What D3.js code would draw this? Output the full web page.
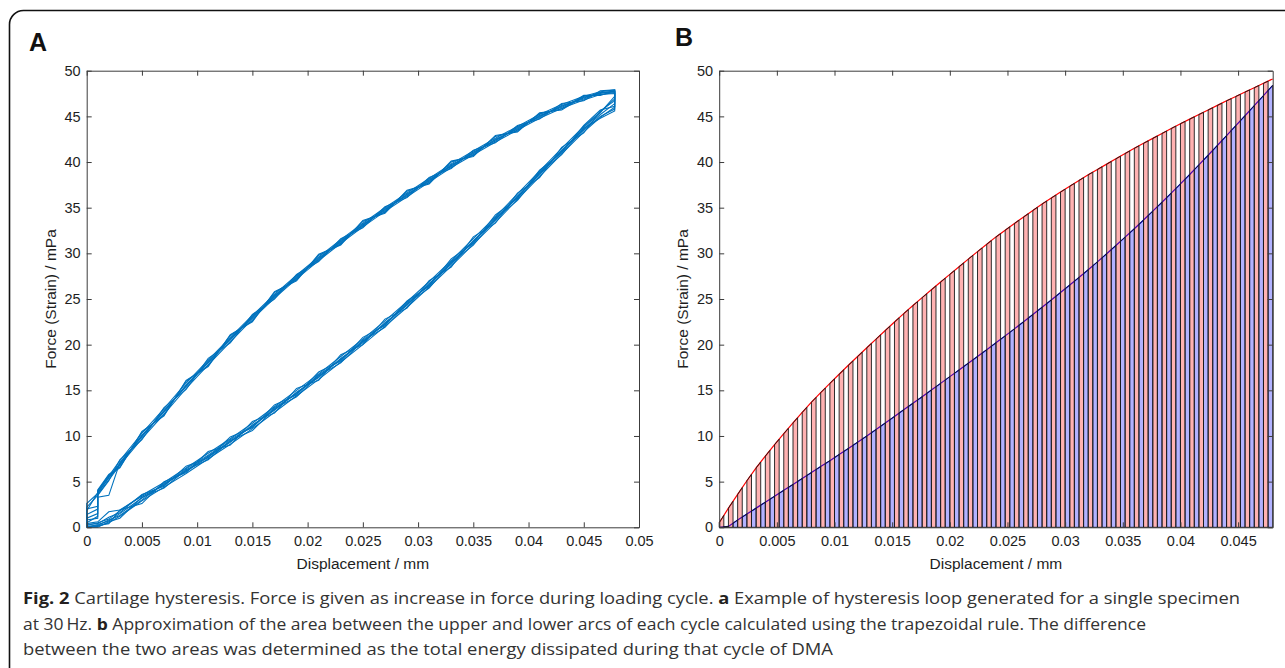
<!DOCTYPE html>
<html>
<head>
<meta charset="utf-8">
<script src="https://cdn.jsdelivr.net/npm/d3@7"></script>
<style>
  body { margin: 0; background: #fff; }
  svg text { font-family: "Liberation Sans", Arial, sans-serif; }
</style>
</head>
<body>
<svg id="fig" width="1285" height="668"></svg>
<script>
// ---- tick labels ----
const xTicksA = [0, 0.005, 0.01, 0.015, 0.02, 0.025, 0.03, 0.035, 0.04, 0.045, 0.05];
const xTicksB = [0, 0.005, 0.01, 0.015, 0.02, 0.025, 0.03, 0.035, 0.04, 0.045];
const yTicks = [0, 5, 10, 15, 20, 25, 30, 35, 40, 45, 50];

// ---- panel A: hysteresis loops (loading branch then unloading branch) ----
const loadX = [0, 0.001, 0.002, 0.003, 0.005, 0.007, 0.009, 0.011, 0.013, 0.015, 0.017, 0.019, 0.021, 0.023,
  0.025, 0.027, 0.029, 0.031, 0.033, 0.035, 0.037, 0.039, 0.041, 0.043, 0.045, 0.0465, 0.0478];
const unloadX = [0.0478, 0.0465, 0.045, 0.043, 0.041, 0.039, 0.037, 0.035, 0.033, 0.031, 0.029, 0.027, 0.025,
  0.023, 0.021, 0.019, 0.017, 0.015, 0.013, 0.011, 0.009, 0.007, 0.005, 0.003, 0.002, 0.001, 0.001, 0];

const loadY1 = [0, 0.3, 0.7, 1.5, 3.2, 4.7, 6.2, 7.8, 9.4, 11.1, 12.9, 14.7, 16.5, 18.4, 20.3, 22.3, 24.4, 26.6, 28.9, 31.3, 33.7, 36.2, 38.7, 41.2, 43.6, 45.2, 46.4];
const loadY2 = [0.2, 0.5, 0.9, 1.8, 3.5, 4.9, 6.5, 8.1, 9.7, 11.4, 13.2, 15.0, 16.8, 18.7, 20.6, 22.6, 24.7, 26.9, 29.2, 31.6, 34.0, 36.5, 39.0, 41.5, 43.9, 45.5, 46.9];
const loadY3 = [0, 0.1, 0.5, 1.2, 2.9, 4.4, 5.9, 7.5, 9.1, 10.8, 12.6, 14.4, 16.2, 18.1, 20.0, 22.0, 24.1, 26.3, 28.6, 31.0, 33.4, 35.9, 38.4, 40.9, 43.3, 44.9, 46.0];
const loadY4 = [0.4, 0.6, 1.7, 1.9, 3.4, 4.6, 6.4, 7.9, 9.6, 11.0, 13.1, 14.6, 16.7, 18.3, 20.5, 22.2, 24.6, 26.5, 29.1, 31.2, 33.9, 36.1, 38.9, 41.1, 43.8, 45.4, 47.2];
const loadY5 = [0.1, 0.2, 0.8, 1.3, 3.0, 4.8, 6.1, 7.7, 9.3, 11.2, 12.8, 14.8, 16.4, 18.5, 20.2, 22.4, 24.3, 26.7, 28.8, 31.4, 33.6, 36.3, 38.6, 41.3, 43.5, 45.0, 45.8];
const loadY6 = [0, 0.2, 0.4, 1.9, 2.6, 5.0, 6.0, 8.3, 9.0, 11.6, 12.5, 15.2, 16.1, 18.9, 20.0, 22.8, 24.0, 27.0, 28.5, 31.8, 33.3, 36.6, 38.3, 41.6, 43.2, 45.6, 46.7];
const loadY7 = [0.3, 0.4, 1.1, 1.6, 3.6, 4.5, 6.7, 7.6, 9.9, 10.9, 13.4, 14.5, 17.0, 18.2, 20.8, 22.1, 24.8, 26.4, 29.4, 31.1, 34.2, 36.0, 39.1, 41.0, 44.0, 45.7, 46.1];
const loadY8 = [0, 0, 0.6, 1.0, 3.3, 4.3, 6.3, 7.4, 9.5, 10.6, 13.0, 14.3, 16.6, 18.0, 20.4, 21.9, 24.5, 26.2, 29.0, 30.9, 33.8, 35.8, 38.8, 40.8, 43.7, 44.8, 45.6];

const unloadY1 = [47.7, 47.6, 47.0, 46.1, 45.0, 43.7, 42.4, 41.0, 39.6, 38.0, 36.4, 34.8, 33.1, 31.3, 29.4, 27.4, 25.3, 23.0, 20.6, 18.1, 15.5, 12.7, 10.0, 7.0, 5.4, 3.8, 3.8, 1.8];
const unloadY2 = [47.9, 47.7, 47.2, 46.3, 45.2, 43.9, 42.6, 41.2, 39.8, 38.2, 36.6, 35.0, 33.3, 31.5, 29.6, 27.6, 25.5, 23.2, 20.8, 18.3, 15.8, 13.0, 10.3, 7.3, 5.6, 4.0, 2.3, 2.0];
const unloadY3 = [47.6, 47.4, 46.8, 45.9, 44.8, 43.5, 42.2, 40.8, 39.4, 37.8, 36.2, 34.6, 32.9, 31.1, 29.2, 27.2, 25.1, 22.8, 20.3, 17.8, 15.2, 12.4, 9.7, 6.8, 5.2, 3.6, 1.0, 0.8];
const unloadY4 = [47.8, 47.5, 47.1, 46.0, 45.1, 43.6, 42.5, 40.9, 39.7, 37.9, 36.5, 34.7, 33.2, 31.2, 29.5, 27.3, 25.4, 22.9, 20.7, 18.0, 15.6, 12.6, 10.1, 6.9, 5.5, 3.7, 3.7, 2.6];
const unloadY5 = [47.7, 47.6, 46.9, 46.2, 44.9, 43.8, 42.3, 41.1, 39.5, 38.1, 36.3, 34.9, 33.0, 31.4, 29.3, 27.5, 25.2, 23.1, 20.5, 18.2, 15.4, 12.8, 9.9, 7.1, 3.5, 3.3, 1.2, 0.5];
const unloadY6 = [47.8, 47.3, 47.3, 45.8, 45.3, 43.4, 42.8, 40.7, 40.0, 37.7, 36.8, 34.5, 33.5, 31.0, 29.8, 27.1, 25.7, 22.6, 21.0, 17.7, 16.0, 12.3, 10.4, 6.6, 5.8, 4.1, 2.0, 1.4];
const unloadY7 = [47.9, 47.8, 46.7, 46.4, 44.7, 44.0, 42.1, 41.3, 39.3, 38.3, 36.1, 35.1, 32.8, 31.6, 29.1, 27.7, 25.0, 23.3, 20.2, 18.5, 15.1, 13.1, 9.6, 7.4, 5.1, 3.5, 3.5, 2.2];
const unloadY8 = [47.5, 47.4, 47.2, 45.7, 45.4, 43.3, 42.9, 40.6, 40.1, 37.6, 36.9, 34.4, 33.6, 30.9, 29.9, 27.0, 25.8, 22.5, 21.1, 17.6, 16.1, 12.2, 10.5, 6.5, 5.7, 3.9, 1.5, 1.0];

const loadsY = [loadY1, loadY2, loadY3, loadY4, loadY5, loadY6, loadY7, loadY8];
const unloadsY = [unloadY1, unloadY2, unloadY3, unloadY4, unloadY5, unloadY6, unloadY7, unloadY8];

// ---- panel B: upper and lower arcs of one cycle ----
const dispB = [0, 0.0008, 0.0016, 0.0024, 0.0032, 0.004, 0.0048, 0.0056, 0.0064, 0.0072, 0.008, 0.0088, 0.0096,
  0.0104, 0.0112, 0.012, 0.0128, 0.0136, 0.0144, 0.0152, 0.016, 0.0168, 0.0176, 0.0184, 0.0192, 0.02, 0.0208,
  0.0216, 0.0224, 0.0232, 0.024, 0.0248, 0.0256, 0.0264, 0.0272, 0.028, 0.0288, 0.0296, 0.0304, 0.0312, 0.032,
  0.0328, 0.0336, 0.0344, 0.0352, 0.036, 0.0368, 0.0376, 0.0384, 0.0392, 0.04, 0.0408, 0.0416, 0.0424, 0.0432,
  0.044, 0.0448, 0.0456, 0.0464, 0.0472, 0.048];
const upperB = [0.5, 2.1, 3.6, 5.1, 6.5, 7.8, 9.05, 10.25, 11.43, 12.58, 13.7, 14.74, 15.76, 16.76, 17.74, 18.7,
  19.66, 20.61, 21.55, 22.48, 23.4, 24.28, 25.15, 26.01, 26.86, 27.7, 28.54, 29.37, 30.19, 31.0, 31.8, 32.54,
  33.27, 33.99, 34.7, 35.4, 36.06, 36.71, 37.35, 37.98, 38.6, 39.19, 39.77, 40.35, 40.93, 41.5, 42.05, 42.59,
  43.13, 43.67, 44.2, 44.7, 45.2, 45.7, 46.2, 46.7, 47.18, 47.66, 48.14, 48.62, 49.1];
const lowerB = [0, 0.1, 0.8, 1.45, 2.1, 2.75, 3.4, 4.05, 4.7, 5.35, 6.0, 6.65, 7.3, 7.97, 8.64, 9.32, 10.0, 10.7,
  11.42, 12.14, 12.87, 13.58, 14.3, 15.03, 15.76, 16.5, 17.23, 17.97, 18.71, 19.45, 20.2, 20.96, 21.73, 22.51,
  23.3, 24.1, 24.9, 25.71, 26.53, 27.36, 28.2, 29.07, 29.96, 30.86, 31.77, 32.7, 33.65, 34.62, 35.6, 36.59, 37.6,
  38.63, 39.68, 40.74, 41.81, 42.9, 43.98, 45.07, 46.17, 47.28, 48.4];

const svg = d3.select('#fig');
const fmt = d => String(+d.toFixed(3));

// outer rounded frame (runs off the right and bottom edges)
svg.append('rect')
  .attr('x', 9.5).attr('y', 10.5).attr('width', 1330).attr('height', 720).attr('rx', 14)
  .attr('fill', 'none').attr('stroke', '#111').attr('stroke-width', 1.6);

// draw a MATLAB-like boxed axes with inward ticks
function drawAxes(g, x, y, xTicks) {
  const bottom = y.range()[0], top = y.range()[1];
  const left = x.range()[0], right = x.range()[1];
  const style = sel => {
    sel.attr('font-family', null).attr('font-size', null);
    sel.selectAll('.domain, .tick line').attr('stroke', '#3c3c3c').attr('stroke-width', 1);
    sel.selectAll('text').attr('fill', '#1e1e1e').style('font-size', '14.5px');
  };
  g.append('g').attr('transform', `translate(0,${bottom})`)
    .call(d3.axisBottom(x).tickValues(xTicks).tickFormat(fmt).tickSizeInner(-5).tickSizeOuter(0).tickPadding(8))
    .call(style);
  g.append('g').attr('transform', `translate(0,${top})`)
    .call(d3.axisTop(x).tickValues(xTicks).tickFormat('').tickSizeInner(-5).tickSizeOuter(0))
    .call(style);
  g.append('g').attr('transform', `translate(${left},0)`)
    .call(d3.axisLeft(y).tickValues(yTicks).tickFormat(fmt).tickSizeInner(-5).tickSizeOuter(0).tickPadding(6))
    .call(style);
  g.append('g').attr('transform', `translate(${right},0)`)
    .call(d3.axisRight(y).tickValues(yTicks).tickFormat('').tickSizeInner(-5).tickSizeOuter(0))
    .call(style);

  // axis titles
  g.append('text')
    .attr('x', (left + right) / 2).attr('y', bottom + 42)
    .attr('text-anchor', 'middle').attr('fill', '#1e1e1e').style('font-size', '15.5px')
    .text('Displacement / mm');
  g.append('text')
    .attr('transform', `translate(${left - 31},${(top + bottom) / 2}) rotate(-90)`)
    .attr('text-anchor', 'middle').attr('fill', '#1e1e1e').style('font-size', '15.5px')
    .text('Force (Strain) / mPa');
}

// ---------- Panel A ----------
const xA = d3.scaleLinear().domain([0, 0.05]).range([86.7, 639]);
const yA = d3.scaleLinear().domain([0, 50]).range([527.3, 70.7]);
const gA = svg.append('g');

const loopLine = d3.line().x(d => xA(d[0])).y(d => yA(d[1]));
loadsY.forEach((ly, k) => {
  const pts = loadX.map((xv, i) => [xv, ly[i]])
    .concat(unloadX.map((xv, i) => [xv, unloadsY[k][i]]));
  pts.push(pts[0]);
  gA.append('path').attr('d', loopLine(pts))
    .attr('fill', 'none').attr('stroke', '#0072BD').attr('stroke-width', 1.1);
});
drawAxes(gA, xA, yA, xTicksA);

svg.append('text').attr('x', 29).attr('y', 51)
  .style('font-size', '25px').style('font-weight', 'bold').attr('fill', '#111').text('A');

// ---------- Panel B ----------
const xB = d3.scaleLinear().domain([0, 0.048]).range([719.2, 1272.7]);
const yB = d3.scaleLinear().domain([0, 50]).range([527.3, 70.7]);
const gB = svg.append('g');

// arc lines underneath
const arcLine = (vals) => d3.line().x((d, i) => xB(dispB[i])).y(d => yB(d))(vals);
gB.append('path').attr('d', arcLine(upperB)).attr('fill', 'none').attr('stroke', '#ff0000').attr('stroke-width', 1.2);
gB.append('path').attr('d', arcLine(lowerB)).attr('fill', 'none').attr('stroke', '#0000ff').attr('stroke-width', 1.2);

// trapezoids: first half of each step for the upper arc (red), second half for the lower arc (blue)
const intervals = d3.range(dispB.length - 1);
gB.selectAll('.trapU').data(intervals).enter().append('path')
  .attr('class', 'trapU')
  .attr('d', i => {
    const xm = (dispB[i] + dispB[i + 1]) / 2, ym = (upperB[i] + upperB[i + 1]) / 2;
    return `M${xB(dispB[i])},${yB(0)}L${xB(dispB[i])},${yB(upperB[i])}L${xB(xm)},${yB(ym)}L${xB(xm)},${yB(0)}Z`;
  })
  .attr('fill', 'rgba(255,0,0,0.3)').attr('stroke', '#1a1a1a').attr('stroke-width', 0.9);
gB.selectAll('.trapL').data(intervals).enter().append('path')
  .attr('class', 'trapL')
  .attr('d', i => {
    const xm = (dispB[i] + dispB[i + 1]) / 2, ym = (lowerB[i] + lowerB[i + 1]) / 2;
    return `M${xB(xm)},${yB(0)}L${xB(xm)},${yB(ym)}L${xB(dispB[i + 1])},${yB(lowerB[i + 1])}L${xB(dispB[i + 1])},${yB(0)}Z`;
  })
  .attr('fill', 'rgba(0,0,255,0.3)').attr('stroke', '#1a1a1a').attr('stroke-width', 0.9);

drawAxes(gB, xB, yB, xTicksB);

svg.append('text').attr('x', 675).attr('y', 46)
  .style('font-size', '25px').style('font-weight', 'bold').attr('fill', '#111').text('B');

// ---------- caption ----------
const captionLines = [
  [['Fig. 2', true], [' Cartilage hysteresis. Force is given as increase in force during loading cycle. ', false],
   ['a', true], [' Example of hysteresis loop generated for a single specimen', false]],
  [['at 30\u2009Hz. ', false], ['b', true],
   [' Approximation of the area between the upper and lower arcs of each cycle calculated using the trapezoidal rule. The difference', false]],
  [['between the two areas was determined as the total energy dissipated during that cycle of DMA', false]]
];
const captionWidths = [1217, 1123, 810];
const capY = [604, 630, 655];
captionLines.forEach((parts, li) => {
  const t = svg.append('text').attr('x', 23).attr('y', capY[li])
    .style('font-family', '"Open Sans", sans-serif').style('font-size', '16.5px')
    .attr('fill', '#333')
    .attr('textLength', captionWidths[li]).attr('lengthAdjust', 'spacingAndGlyphs');
  parts.forEach(([s, bold]) => {
    t.append('tspan').text(s).style('font-weight', bold ? 'bold' : 'normal').attr('fill', bold ? '#231f20' : '#333');
  });
});
</script>
</body>
</html>
